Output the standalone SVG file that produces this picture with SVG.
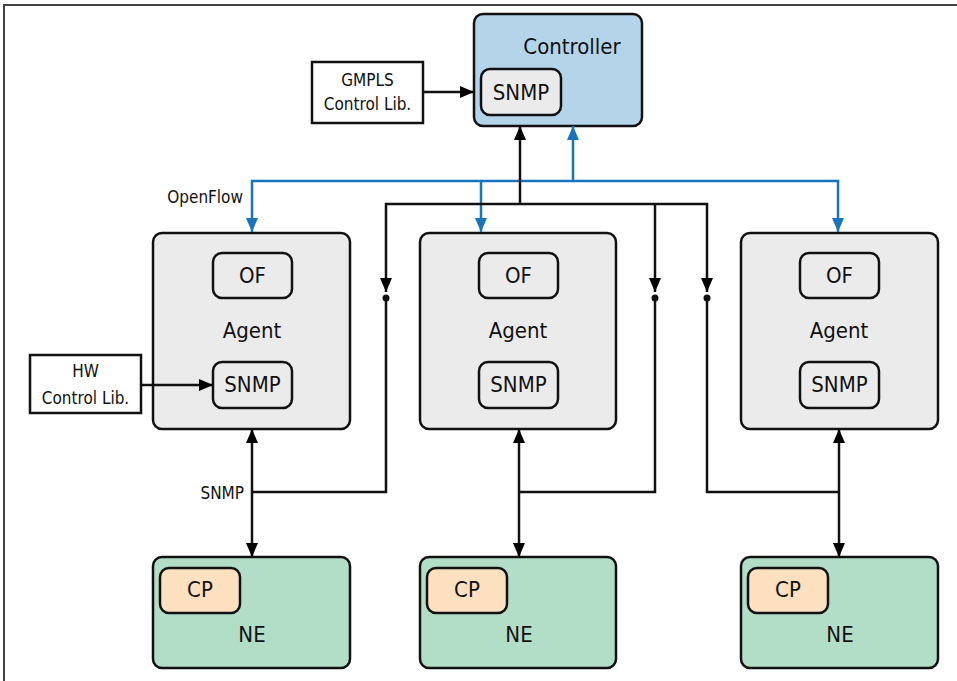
<svg xmlns="http://www.w3.org/2000/svg" width="957" height="681" viewBox="0 0 957 681">
<defs>
<marker id="ab" markerUnits="userSpaceOnUse" markerWidth="16" markerHeight="16" viewBox="0 0 16 16" refX="14" refY="8" orient="auto-start-reverse"><path d="M0,2 L14,8 L0,14 z" fill="#000"/></marker>
<marker id="au" markerUnits="userSpaceOnUse" markerWidth="16" markerHeight="16" viewBox="0 0 16 16" refX="14" refY="8" orient="auto-start-reverse"><path d="M0,2 L14,8 L0,14 z" fill="#1874bd"/></marker>
<style>
text{font-family:"Liberation Sans Narrow","DejaVu Sans Condensed","Liberation Sans",sans-serif;fill:#111;text-anchor:middle}
.big{font-size:22px}
.sm{font-size:17px}
.box{stroke:#111;stroke-width:2.5}
.ctl{fill:#b4d4ea}
.agent{fill:#ebebeb}
.ne{fill:#b2dec8}
.inner{fill:#ebebeb}
.cp{fill:#fde0bf}
.lib{fill:#fff;stroke:#111;stroke-width:2.5}
.k{fill:none;stroke:#111;stroke-width:2.5}
.b{fill:none;stroke:#1874bd;stroke-width:2.5}
</style>
</defs>
<rect width="957" height="681" fill="#fff"/>
<path d="M4,681 V5 H957" fill="none" stroke="#444" stroke-width="2"/>

<g id="controller">
<rect class="box ctl" x="474" y="14" width="168" height="112" rx="9"/>
<text class="big" x="572" y="54">Controller</text>
<rect class="box inner" x="481" y="69" width="80" height="46" rx="9"/>
<text class="big" x="521" y="100">SNMP</text>
</g>
<g id="gmpls">
<rect class="lib" x="312" y="62" width="111" height="61"/>
<text class="sm" x="367.5" y="86">GMPLS</text>
<text class="sm" x="367.5" y="110">Control Lib.</text>
</g>

<g id="agent1">
<rect class="box agent" x="153" y="233" width="197" height="196" rx="9"/>
<rect class="box inner" x="213" y="253" width="79" height="45" rx="9"/>
<text class="big" x="252.5" y="283">OF</text>
<text class="big" x="252" y="338">Agent</text>
<rect class="box inner" x="213" y="362" width="79" height="46" rx="9"/>
<text class="big" x="252.5" y="392">SNMP</text>
</g>
<g id="agent2">
<rect class="box agent" x="420" y="233" width="196" height="196" rx="9"/>
<rect class="box inner" x="479" y="253" width="79" height="45" rx="9"/>
<text class="big" x="518.5" y="283">OF</text>
<text class="big" x="518" y="338">Agent</text>
<rect class="box inner" x="479" y="362" width="79" height="46" rx="9"/>
<text class="big" x="518.5" y="392">SNMP</text>
</g>
<g id="agent3">
<rect class="box agent" x="741" y="233" width="197" height="196" rx="9"/>
<rect class="box inner" x="800" y="253" width="79" height="45" rx="9"/>
<text class="big" x="839.5" y="283">OF</text>
<text class="big" x="839" y="338">Agent</text>
<rect class="box inner" x="800" y="362" width="79" height="46" rx="9"/>
<text class="big" x="839.5" y="392">SNMP</text>
</g>
<g id="hwlib">
<rect class="lib" x="30" y="355" width="111" height="58"/>
<text class="sm" x="85.5" y="377">HW</text>
<text class="sm" x="85.5" y="404">Control Lib.</text>
</g>

<g id="ne1">
<rect class="box ne" x="153" y="557" width="197" height="111" rx="9"/>
<rect class="box cp" x="160" y="568" width="80" height="45" rx="9"/>
<text class="big" x="200" y="597">CP</text>
<text class="big" x="252" y="642">NE</text>
</g>
<g id="ne2">
<rect class="box ne" x="420" y="557" width="196" height="111" rx="9"/>
<rect class="box cp" x="427" y="568" width="80" height="45" rx="9"/>
<text class="big" x="467" y="597">CP</text>
<text class="big" x="519" y="642">NE</text>
</g>
<g id="ne3">
<rect class="box ne" x="741" y="557" width="197" height="111" rx="9"/>
<rect class="box cp" x="748" y="568" width="80" height="45" rx="9"/>
<text class="big" x="788" y="597">CP</text>
<text class="big" x="840" y="642">NE</text>
</g>

<g id="connectors">
<path class="k" d="M423,92 H474" marker-end="url(#ab)"/>
<path class="k" d="M141,385 H213" marker-end="url(#ab)"/>
<path class="b" d="M252,232 V181 H838 V232" marker-start="url(#au)" marker-end="url(#au)"/>
<path class="b" d="M481,181 V232" marker-end="url(#au)"/>
<path class="b" d="M573,181 V126" marker-end="url(#au)"/>
<path class="k" d="M386,292 V204 H707 V292" marker-start="url(#ab)" marker-end="url(#ab)"/>
<path class="k" d="M655,204 V292" marker-end="url(#ab)"/>
<path class="k" d="M520,204 V126" marker-end="url(#ab)"/>
<path class="k" d="M252,429 V557" marker-start="url(#ab)" marker-end="url(#ab)"/>
<path class="k" d="M519,429 V557" marker-start="url(#ab)" marker-end="url(#ab)"/>
<path class="k" d="M839,429 V557" marker-start="url(#ab)" marker-end="url(#ab)"/>
<path class="k" d="M252,492 H386 V298"/>
<path class="k" d="M519,492 H655 V298"/>
<path class="k" d="M839,492 H707 V298"/>
<circle cx="386" cy="298" r="3.5" fill="#111"/>
<circle cx="655" cy="298" r="3.5" fill="#111"/>
<circle cx="707" cy="298" r="3.5" fill="#111"/>
<text class="sm" x="243" y="203" style="text-anchor:end">OpenFlow</text>
<text class="sm" x="244" y="499" style="text-anchor:end">SNMP</text>
</g>
</svg>
